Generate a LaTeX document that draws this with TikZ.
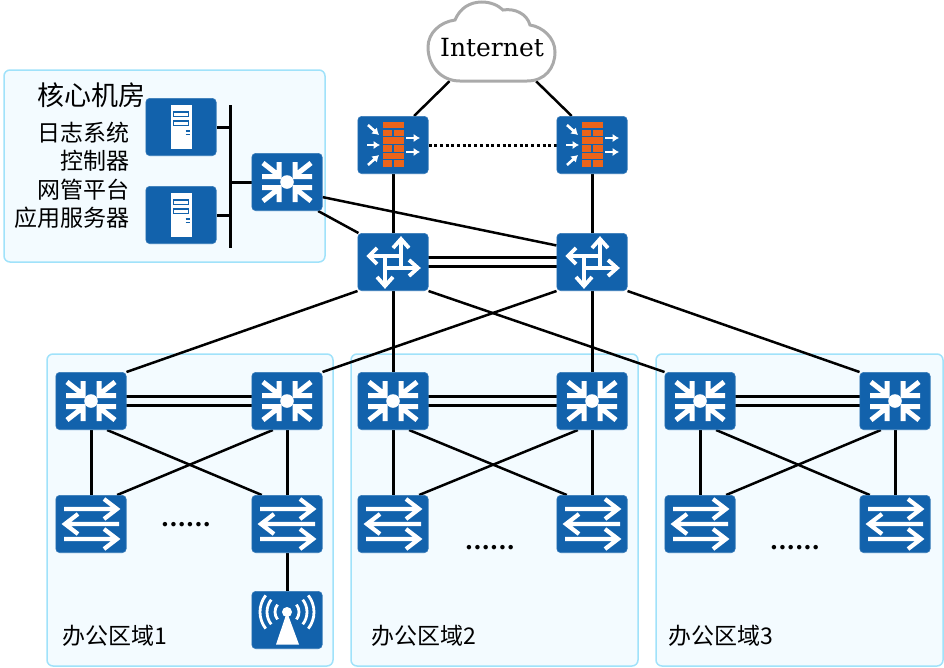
\documentclass[tikz,border=0pt]{standalone}
\usepackage{fontspec}
\setmainfont{DejaVu Serif}
\newfontfamily\cjk{Noto Sans CJK SC}
\usetikzlibrary{calc,arrows.meta}
\definecolor{devblue}{RGB}{18,98,172}
\definecolor{brick}{RGB}{236,100,26}
\definecolor{zonefill}{RGB}{243,251,255}
\definecolor{zoneline}{RGB}{160,226,250}
\definecolor{cloudline}{RGB}{170,170,170}
\pgfdeclarelayer{front}
\pgfsetlayers{main,front}

\tikzset{
devbox/.style={shape=rectangle,rounded corners=4pt,fill=devblue,draw=devblue!85!white,line width=0.6pt,inner sep=0pt,minimum width=70.4pt,minimum height=57.4pt},
zonebox/.style={shape=rectangle,rounded corners=6pt,fill=zonefill,draw=zoneline,line width=1.5pt,inner sep=0pt},
link/.style={line width=2.5pt,black},
thicklink/.style={line width=3pt,black},
txt/.style={font=\cjk\fontsize{23}{23}\selectfont,inner sep=0pt},
whitepen/.style={draw=white,line width=#1,line cap=butt,line join=miter},
fwarrow/.style={white,line width=2.6pt,-{Latex[length=6.5pt,width=8.5pt]}},
coreicon/.pic={
  \fill[white] (0,0) circle (6.8);
  \foreach \sx/\sy in {1/1,-1/1,1/-1,-1/-1} \draw[whitepen=5pt,xscale=\sx,yscale=\sy] (-8,-20) -- (-8,-5.5) -- (-25,-5.5) (-24,-19) -- (-10,-8);
},
switchicon/.pic={
  \draw[whitepen=4.2pt] (-27,-15) -- (25,-15) (13,-25) -- (26,-15) -- (13,-5);
  \draw[whitepen=4.2pt] (28,0) -- (-25,0) (-13,-10) -- (-26,0) -- (-13,10);
  \draw[whitepen=4.2pt] (-27,15) -- (25,15) (13,5) -- (26,15) -- (13,25);
},
routericon/.pic={
  \draw[whitepen=3.8pt] (8,7) -- (8,-23) (0,-14) -- (8,-23) -- (16,-14);
  \draw[whitepen=3.8pt] (8,-6) -- (-24,-6) (-16,-14) -- (-24,-6) -- (-16,2);
  \draw[whitepen=3.8pt] (-8,6) -- (25,6) (16,-2) -- (25,6) -- (16,14);
  \draw[whitepen=3.8pt] (-8,-7) -- (-8,24) (-16,15) -- (-8,24) -- (0,15);
},
firewallicon/.pic={
  \foreach \y in {-23,-7.7,7.7} \fill[brick] (-10.3,\y) rectangle (10.7,\y+6.4);
  \foreach \y in {-15.4,0,15.4} {
    \fill[brick] (-10.3,\y) rectangle (-0.8,\y+6.6);
    \fill[brick] (1,\y) rectangle (10.7,\y+6.6);
  }
  \draw[fwarrow] (-25,-20) -- (-14,-10);
  \draw[fwarrow] (-26,0) -- (-13,0);
  \draw[fwarrow] (-25,20) -- (-14,10);
  \draw[fwarrow] (13,-7) -- (27,-7);
  \draw[fwarrow] (13,7) -- (27,7);
},
servericon/.pic={
  \fill[white] (-10.3,-22) rectangle (10.7,22);
  \draw[devblue,line width=1.3pt] (-7.5,-15) rectangle (7.7,-10.5) (-7.5,-6) rectangle (7.7,-1.5);
  \draw[devblue,line width=1.3pt] (4.7,4) -- (8.7,4) (4.7,7.5) -- (8.7,7.5);
},
apicon/.pic={
  \fill[white] (0,-8) -- (-11,24.5) -- (12,24.5) -- cycle;
  \fill[white] (0,-8) circle (5);
  \foreach \r in {12,20,27} {
    \draw[white,line width=2.8pt,shift={(0,-8)}] (-38:\r) arc (-38:38:\r);
    \draw[white,line width=2.8pt,shift={(0,-8)}] (142:\r) arc (142:218:\r);
  }
}
}

\begin{document}
\begin{tikzpicture}[x=1pt,y=-1pt]
\useasboundingbox (0,0) rectangle (944,667);

% zones
\node[zonebox,minimum width=321pt,minimum height=192pt] (zone0) at (164.5,166) {};
\node[zonebox,minimum width=286pt,minimum height=312pt] (zone1) at (190,510) {};
\node[zonebox,minimum width=287pt,minimum height=312pt] (zone2) at (494.5,510) {};
\node[zonebox,minimum width=287pt,minimum height=312pt] (zone3) at (799.5,510) {};

% devices
\begin{pgfonlayer}{front}
\draw[cloudline,line width=3pt,fill=white] (460,81) -- (527,81) .. controls (545,81) and (555,68) .. (555,52) .. controls (555,38) and (543,27) .. (530,25) .. controls (527,14) and (515,8) .. (503,10) .. controls (498,5) and (490,2) .. (482,2) .. controls (470,2) and (460,8) .. (455,20) .. controls (440,22) and (428,33) .. (428,47) .. controls (428,66) and (441,81) .. (460,81) -- cycle;
\node[minimum width=128pt,minimum height=66pt,inner sep=0pt,font=\fontsize{25}{25}\selectfont] (inet) at (492,48) {Internet};

\node[devbox] (srv1) at (181,127) {}; \pic at (srv1) {servericon};
\node[devbox] (srv2) at (181,215) {}; \pic at (srv2) {servericon};
\node[devbox] (core) at (287,182) {}; \pic at (core) {coreicon};

\node[devbox] (fw1) at (393,145) {}; \pic at (fw1) {firewallicon};
\node[devbox] (fw2) at (592,145) {}; \pic at (fw2) {firewallicon};
\node[devbox] (r1) at (393,262) {}; \pic at (r1) {routericon};
\node[devbox] (r2) at (592,262) {}; \pic at (r2) {routericon};

\foreach \i/\xa/\xb in {1/91/287,2/393/592,3/700/895} {
  \node[devbox] (c\i1) at (\xa,401) {}; \pic at (c\i1) {coreicon};
  \node[devbox] (c\i2) at (\xb,401) {}; \pic at (c\i2) {coreicon};
  \node[devbox] (a\i1) at (\xa,524) {}; \pic at (a\i1) {switchicon};
  \node[devbox] (a\i2) at (\xb,524) {}; \pic at (a\i2) {switchicon};
}
\node[devbox] (ap) at (287,620) {}; \pic at (ap) {apicon};
\end{pgfonlayer}

% server bus
\coordinate (bustop) at (230,105);
\coordinate (busbot) at (230,248);
\draw[thicklink] (bustop) -- (busbot);
\draw[thicklink] (srv1) -- (srv1 -| bustop);
\draw[thicklink] (srv2) -- (srv2 -| bustop);
\draw[thicklink] (core) -- (core -| bustop);

% uplinks
\draw[link] (inet.-142.5) -- (fw1.54);
\draw[link] (inet.-37) -- (fw2.125);
\draw[thicklink] (fw1) -- (r1);
\draw[thicklink] (fw2) -- (r2);
\draw[thicklink,dash pattern=on 3pt off 2.7pt] (fw1) -- (fw2);
\draw[link] (core.-43) -- (r1.140);
\draw[link] (core.-23) -- (r2.155);
\draw[thicklink] ([yshift=-4.5pt]r1.center) -- ([yshift=-4.5pt]r2.center);
\draw[thicklink] ([yshift=4.5pt]r1.center) -- ([yshift=4.5pt]r2.center);

% to the zones
\draw[link] (r1.south west) -- (c11.north east);
\draw[link] (r2.south west) -- (c12.north east);
\draw[link] (r1.south east) -- (c31.north west);
\draw[link] (r2.south east) -- (c32.north west);
\draw[thicklink] (r1) -- (c21);
\draw[thicklink] (r2) -- (c22);

\foreach \i in {1,2,3} {
  \draw[thicklink] ([yshift=-4.5pt]c\i1.center) -- ([yshift=-4.5pt]c\i2.center);
  \draw[thicklink] ([yshift=4.5pt]c\i1.center) -- ([yshift=4.5pt]c\i2.center);
  \draw[thicklink] (c\i1) -- (a\i1);
  \draw[thicklink] (c\i2) -- (a\i2);
  \draw[link] (c\i1.-61) -- (a\i2.131);
  \draw[link] (c\i2.-116) -- (a\i1.48);
}
\draw[thicklink] (a12) -- (ap);

% labels
\node[txt,font=\cjk\fontsize{27}{27}\selectfont] (title0) at (91,95) {核心机房};
\node[txt,anchor=east] (lab1) at (130,133) {日志系统};
\node[txt,anchor=east] (lab2) at (130,161) {控制器};
\node[txt,anchor=east] (lab3) at (130,190) {网管平台};
\node[txt,anchor=east] (lab4) at (130,218) {应用服务器};
\node[txt,anchor=west] (name1) at (62,636) {办公区域1};
\node[txt,anchor=west] (name2) at (371,636) {办公区域2};
\node[txt,anchor=west] (name3) at (668,636) {办公区域3};

\node[inner sep=0pt,font=\bfseries\fontsize{24}{24}\selectfont,anchor=base] (more1) at (186,526) {......};
\node[inner sep=0pt,font=\bfseries\fontsize{24}{24}\selectfont,anchor=base] (more2) at (490,549) {......};
\node[inner sep=0pt,font=\bfseries\fontsize{24}{24}\selectfont,anchor=base] (more3) at (795,549) {......};

\end{tikzpicture}
\end{document}
